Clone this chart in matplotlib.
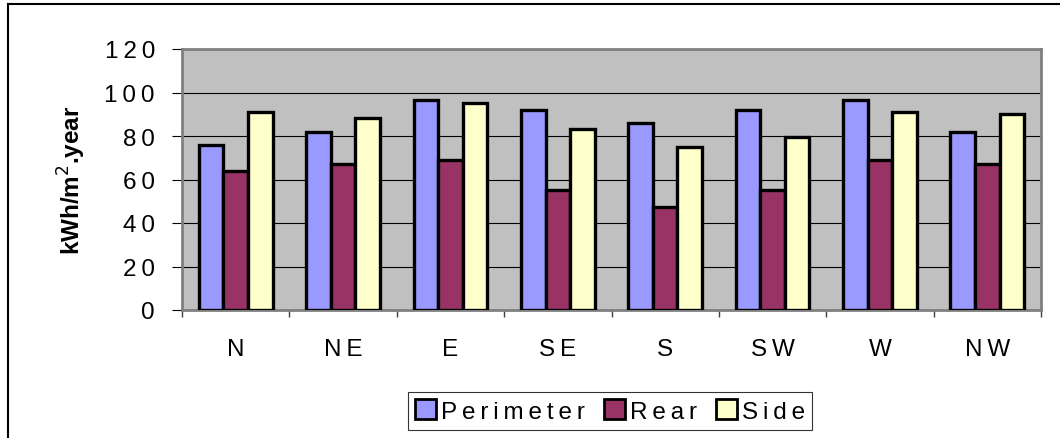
import matplotlib.pyplot as plt
import numpy as np
from matplotlib.lines import Line2D

plt.rcParams['font.family'] = ['Liberation Sans', 'DejaVu Sans']

# データ
directions = ["N", "NE", "E", "SE", "S", "SW", "W", "NW"]
perimeter = [76, 82, 96.5, 92, 86, 92, 96.5, 82]
rear = [64, 67, 69, 55, 47.5, 55, 69, 67]
side = [91, 88.5, 95, 83, 75, 79.5, 91, 90]

series = [("Perimeter", perimeter, "#9999FF"),
          ("Rear", rear, "#993366"),
          ("Side", side, "#FFFFCC")]


def spaced(s):
    # 文字間を少し広げる
    return "\u2009".join(s)


fig = plt.figure(figsize=(10.6, 4.39), dpi=100)
ax = fig.add_axes([182 / 1060, 1 - 311 / 439, (1041 - 182) / 1060, (311 - 50) / 439])
ax.set_facecolor("#C0C0C0")

x = np.arange(len(directions))
w = 0.229
for k, (name, vals, col) in enumerate(series):
    ax.bar(x + (k - 1) * w, vals, width=w, color=col, edgecolor="black",
           linewidth=2.4, label=spaced(name), zorder=3)

ax.set_xlim(-0.5, len(directions) - 0.5)
ax.set_ylim(0, 120)
ax.set_yticks(range(0, 121, 20))
ax.set_yticklabels([spaced(str(v)) for v in range(0, 121, 20)], fontsize=17.5)
ax.yaxis.grid(True, color="black", linewidth=0.8, zorder=1)
ax.set_axisbelow(True)

ax.set_xticks(x)
ax.set_xticklabels([spaced(d) for d in directions], fontsize=17.5)
ax.set_xticks(np.arange(-0.5, len(directions)), minor=True)
ax.tick_params(axis="x", which="major", length=0, pad=20)
ax.tick_params(axis="x", which="minor", length=5, color="#404040", width=1)
ax.tick_params(axis="y", length=7.5, width=0.8, color="black", pad=12)

for s in ax.spines.values():
    s.set_color("#808080")
    s.set_linewidth(2)

ax.set_ylabel("kWh/m$^2$.year", fontsize=17.5, fontweight="bold", labelpad=12)

leg = ax.legend(loc="center", bbox_to_anchor=(610 / 1060, 1 - 412 / 439),
                bbox_transform=fig.transFigure, ncol=3, fontsize=17.5,
                frameon=True, fancybox=False, handlelength=0.85, handleheight=0.85,
                handletextpad=0.2, columnspacing=0.8, borderpad=0.3)
leg.get_frame().set_edgecolor("black")
leg.get_frame().set_linewidth(0.8)
for h in leg.legend_handles:
    h.set_linewidth(2)

# 外枠 (上と左のみ見える)
fig.add_artist(Line2D([8 / 1060, 8 / 1060], [0, 1 - 5 / 439], transform=fig.transFigure,
                      color="black", linewidth=1.5))
fig.add_artist(Line2D([8 / 1060, 1], [1 - 5 / 439, 1 - 5 / 439], transform=fig.transFigure,
                      color="black", linewidth=1.5))

fig.savefig("out.png", dpi=100)
